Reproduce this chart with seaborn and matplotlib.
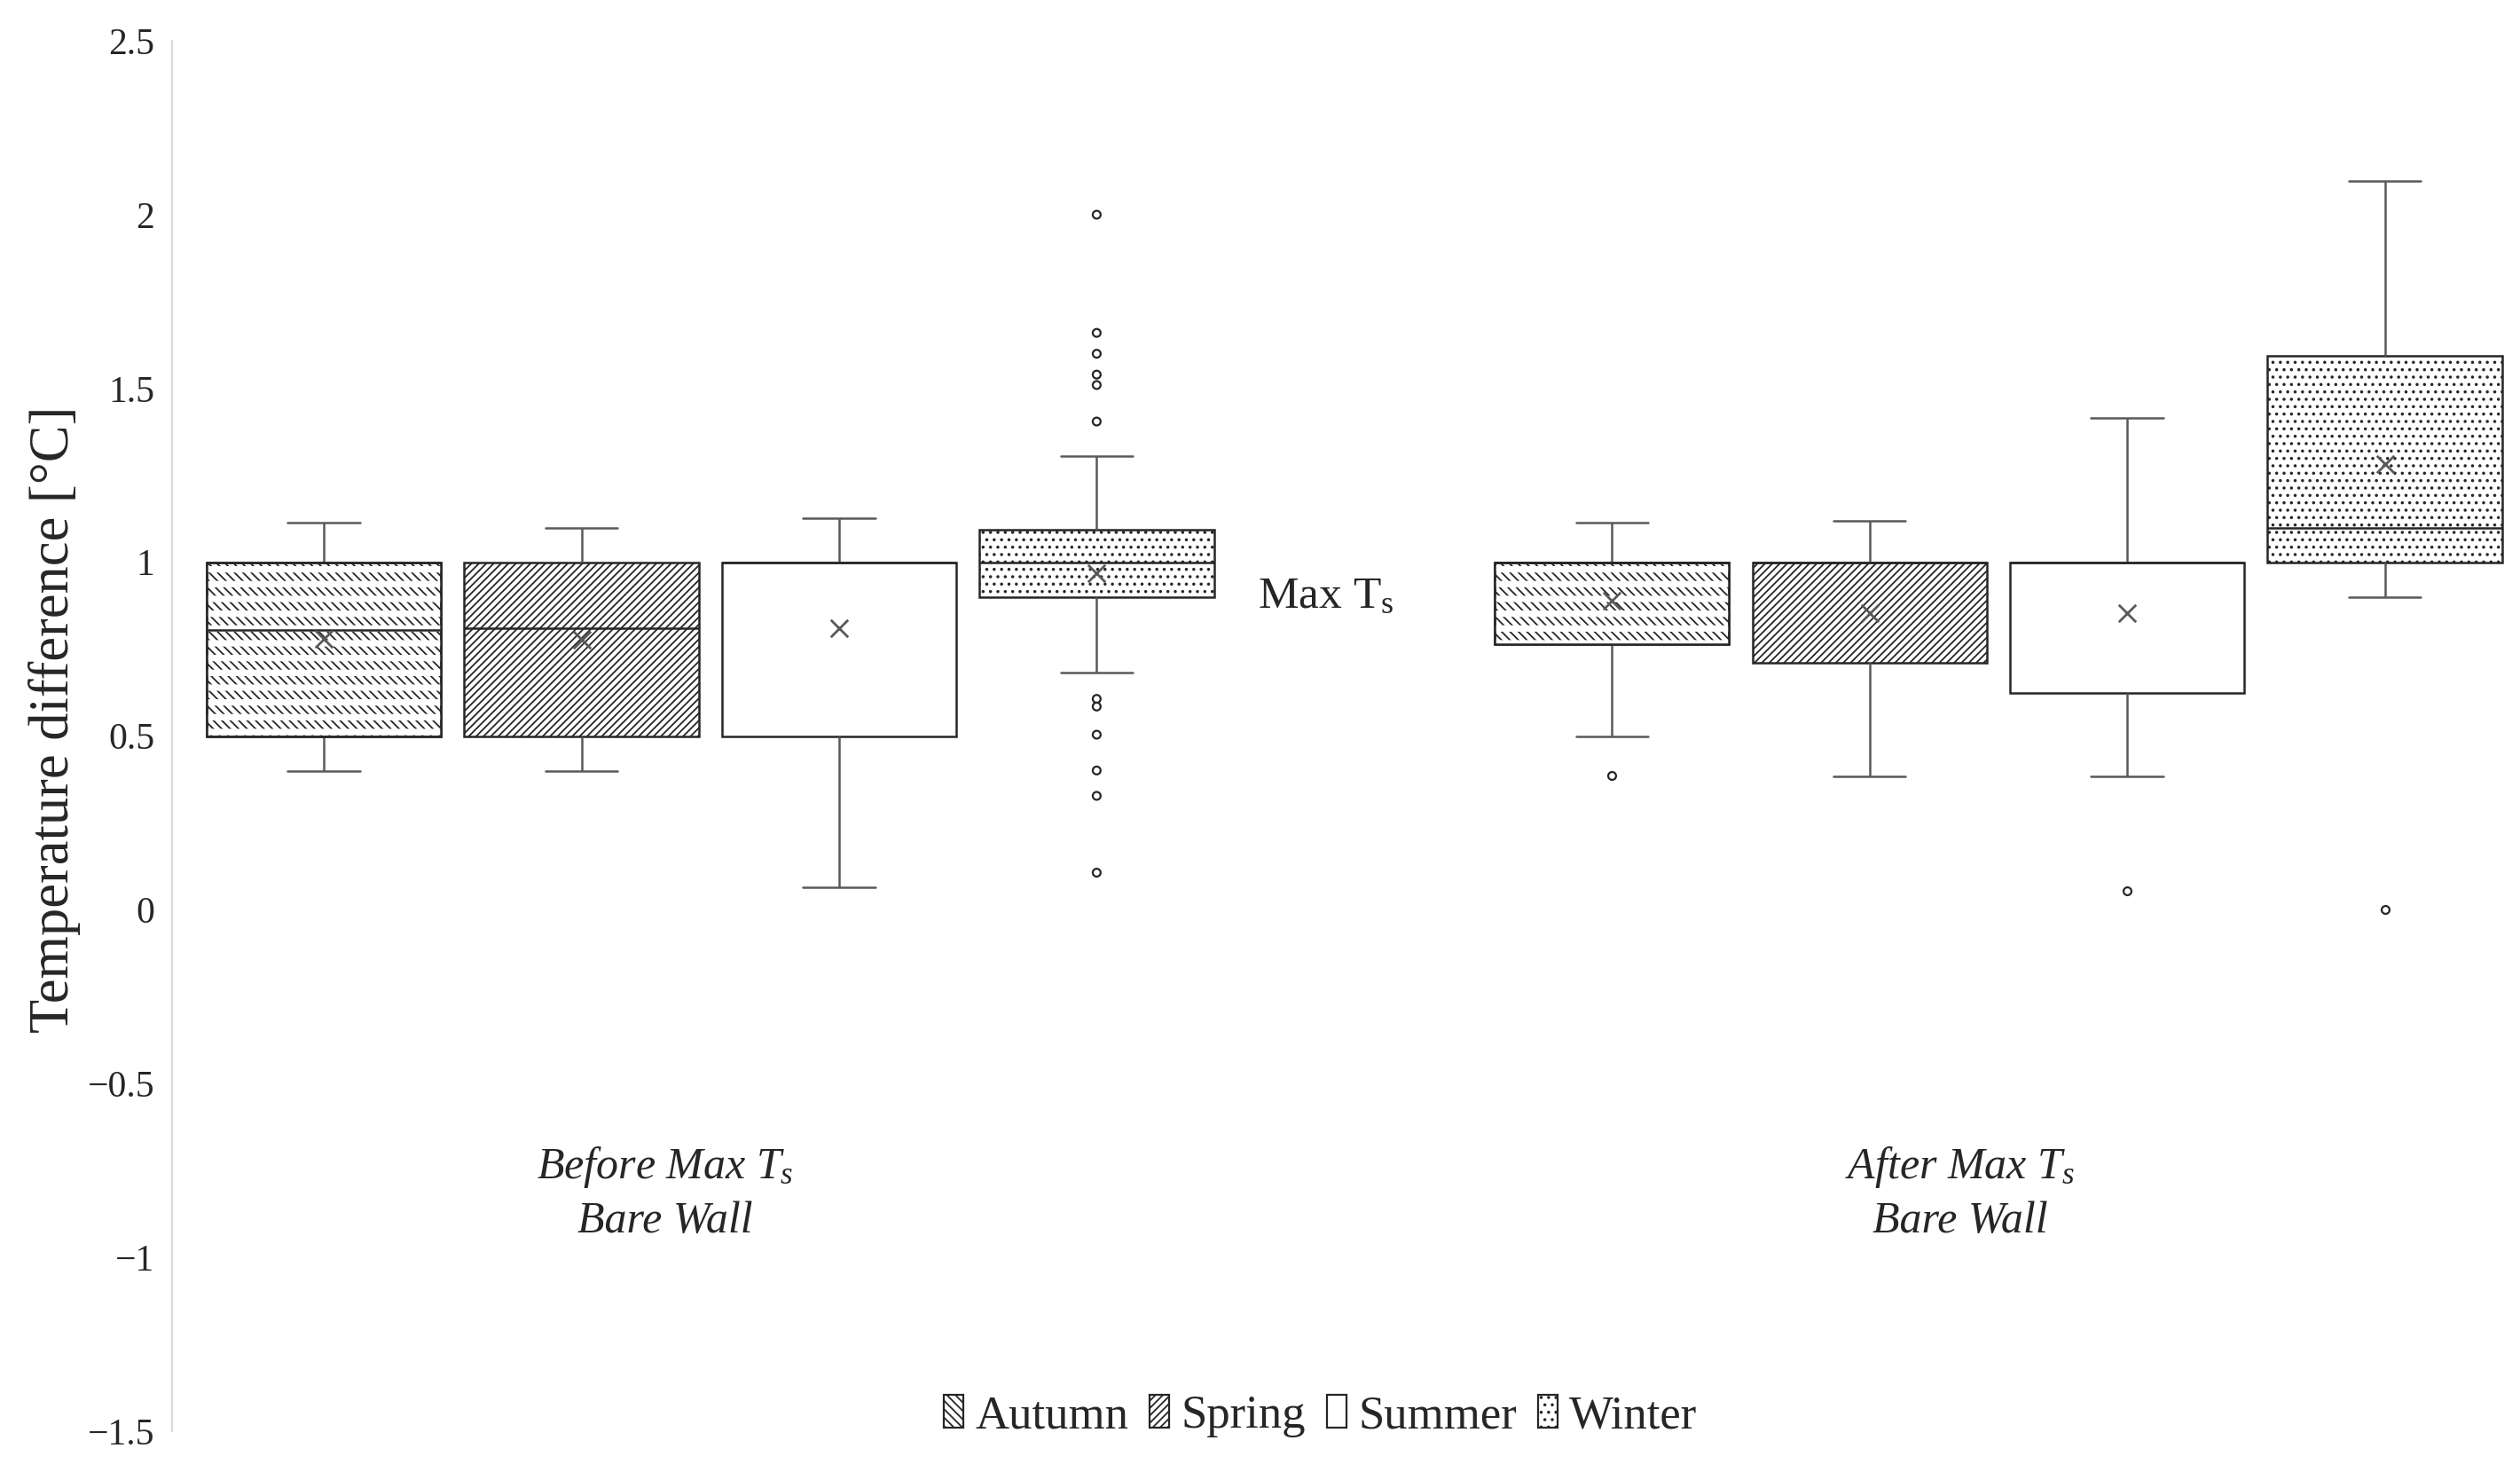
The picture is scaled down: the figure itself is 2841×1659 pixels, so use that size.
import numpy as np
import pandas as pd
import matplotlib
matplotlib.use("Agg")
import matplotlib.pyplot as plt
from matplotlib.patches import Patch, PathPatch
from matplotlib.ticker import FuncFormatter
import seaborn as sns

seasons = ["Autumn", "Spring", "Summer", "Winter"]
phases = ["Before", "After"]
phase_labels = ["Before Max $\\mathit{T}_\\mathit{s}$\nBare Wall",
                "After Max $\\mathit{T}_\\mathit{s}$\nBare Wall"]
hatches = ["\\\\\\\\\\\\\\", "////////", "", "...."]

# five-number summaries (lower whisker, Q1, median, Q3, upper whisker)
before_low = [0.40, 0.40, 0.065, 0.684]
before_q1 = [0.50, 0.50, 0.50, 0.90]
before_med = [0.805, 0.81, 1.00, 1.00]
before_q3 = [1.00, 1.00, 1.00, 1.093]
before_high = [1.113, 1.10, 1.126, 1.305]
before_mean = [0.779, 0.777, 0.81, 0.968]

after_low = [0.50, 0.383, 0.385, 0.90]
after_q1 = [0.764, 0.711, 0.625, 1.00]
after_med = [1.00, 1.00, 1.00, 1.10]
after_q3 = [1.00, 1.00, 1.00, 1.593]
after_high = [1.113, 1.118, 1.416, 2.096]
after_mean = [0.889, 0.854, 0.853, 1.282]

before_winter_out = [2.0, 1.66, 1.60, 1.54, 1.51, 1.405, 0.607, 0.585, 0.504, 0.401, 0.328, 0.107]
after_autumn_out = [0.387]
after_summer_out = [0.055]
after_winter_out = [0.0]

box_rows = []
for phase, cols in [("Before", [before_low, before_q1, before_med, before_q3, before_high]),
                    ("After", [after_low, after_q1, after_med, after_q3, after_high])]:
    for i, s in enumerate(seasons):
        for c in cols:
            box_rows.append((phase, s, c[i]))
box_df = pd.DataFrame(box_rows, columns=["phase", "season", "value"])

mean_df = pd.DataFrame(
    [("Before", s, m) for s, m in zip(seasons, before_mean)]
    + [("After", s, m) for s, m in zip(seasons, after_mean)],
    columns=["phase", "season", "value"])

out_df = pd.DataFrame(
    [("Before", "Winter", v) for v in before_winter_out]
    + [("After", "Autumn", v) for v in after_autumn_out]
    + [("After", "Summer", v) for v in after_summer_out]
    + [("After", "Winter", v) for v in after_winter_out],
    columns=["phase", "season", "value"])

sns.set_style("white")
plt.rcParams["font.family"] = ["Liberation Serif", "DejaVu Serif"]
plt.rcParams["mathtext.fontset"] = "custom"
plt.rcParams["mathtext.rm"] = "Liberation Serif"
plt.rcParams["mathtext.it"] = "Liberation Serif:italic"
plt.rcParams["hatch.linewidth"] = 0.65

edge = "#262626"
wcol = "#595959"

fig = plt.figure(figsize=(14.205, 8.295), dpi=200)
ax = fig.add_axes([0.0682, 0.0277, 0.9318, 0.9445])

for i, s in enumerate(seasons):
    n0 = len(ax.patches)
    sns.boxplot(data=box_df[box_df.season == s], x="phase", y="value", hue="season",
                order=phases, hue_order=seasons, dodge=True, gap=0.09, fliersize=0,
                palette={k: "white" for k in seasons}, linecolor=edge, linewidth=0.9,
                whiskerprops={"color": wcol}, capprops={"color": wcol},
                legend=False, ax=ax)
    for p in ax.patches[n0:]:
        p.set_hatch(hatches[i])
        p.set_edgecolor(edge)
        if s == "Autumn":
            ov = PathPatch(p.get_path(), transform=p.get_transform(), facecolor="none",
                           edgecolor="white", lw=0, hatch="--", zorder=2.03)
            if hasattr(ov, "set_hatch_linewidth"):
                ov.set_hatch_linewidth(2.6)
            ax.add_patch(ov)
            ed = PathPatch(p.get_path(), transform=p.get_transform(), facecolor="none",
                           edgecolor=edge, lw=0.9, zorder=2.06)
            ax.add_patch(ed)

# narrower whisker caps, as in the original
for ln in ax.lines:
    xd, yd = np.asarray(ln.get_xdata(), float), np.asarray(ln.get_ydata(), float)
    if len(xd) == 2 and yd[0] == yd[1]:
        w = abs(xd[1] - xd[0])
        if 0.01 < w < 0.15:
            c = xd.mean()
            ln.set_xdata([c - 0.028, c + 0.028])

sns.stripplot(data=mean_df, x="phase", y="value", hue="season", order=phases,
              hue_order=seasons, dodge=True, jitter=False, marker="x", size=7,
              linewidth=1.0, palette={k: wcol for k in seasons}, legend=False,
              zorder=4, ax=ax)
sns.stripplot(data=out_df, x="phase", y="value", hue="season", order=phases,
              hue_order=seasons, dodge=True, jitter=False, marker="o", size=3.2,
              linewidth=0.8, edgecolor=edge, palette={k: "white" for k in seasons},
              legend=False, zorder=4, ax=ax)

ax.set_xlim(-0.418, 1.405)
ax.set_ylim(-1.5, 2.5)
ax.set_yticks(np.arange(-1.5, 2.51, 0.5))
ax.yaxis.set_major_formatter(FuncFormatter(lambda v, p: f"{v:g}".replace("-", "\u2212")))
ax.tick_params(axis="y", length=0, pad=7, labelsize=15)
ax.set_xticks([])
ax.set_xlabel("")
for side in ["top", "right", "bottom"]:
    ax.spines[side].set_visible(False)
ax.spines["left"].set_color("#d9d9d9")
ax.spines["left"].set_linewidth(0.8)

ax.set_ylabel("Temperature difference [°C]", fontsize=22.5)
ax.yaxis.set_label_coords(-0.039, 0.512)

for xc, lab in zip([-0.035, 0.97], phase_labels):
    ax.text(xc, -0.815, lab, ha="center", va="center", fontsize=18, style="italic",
            linespacing=1.35)
ax.text(0.478, 0.9, "Max T$_\\mathrm{s}$", ha="center", va="center", fontsize=18.5)

handles = [Patch(facecolor="white", edgecolor=edge, hatch=h, label=s, lw=0.8)
           for s, h in zip(seasons, hatches)]
fig.legend(handles=handles, loc="center", bbox_to_anchor=(0.524, 0.038), ncol=4,
           frameon=False, fontsize=19, handlelength=0.42, handleheight=0.72,
           handletextpad=0.25, columnspacing=0.45)

fig.savefig("out.png", dpi=200)
